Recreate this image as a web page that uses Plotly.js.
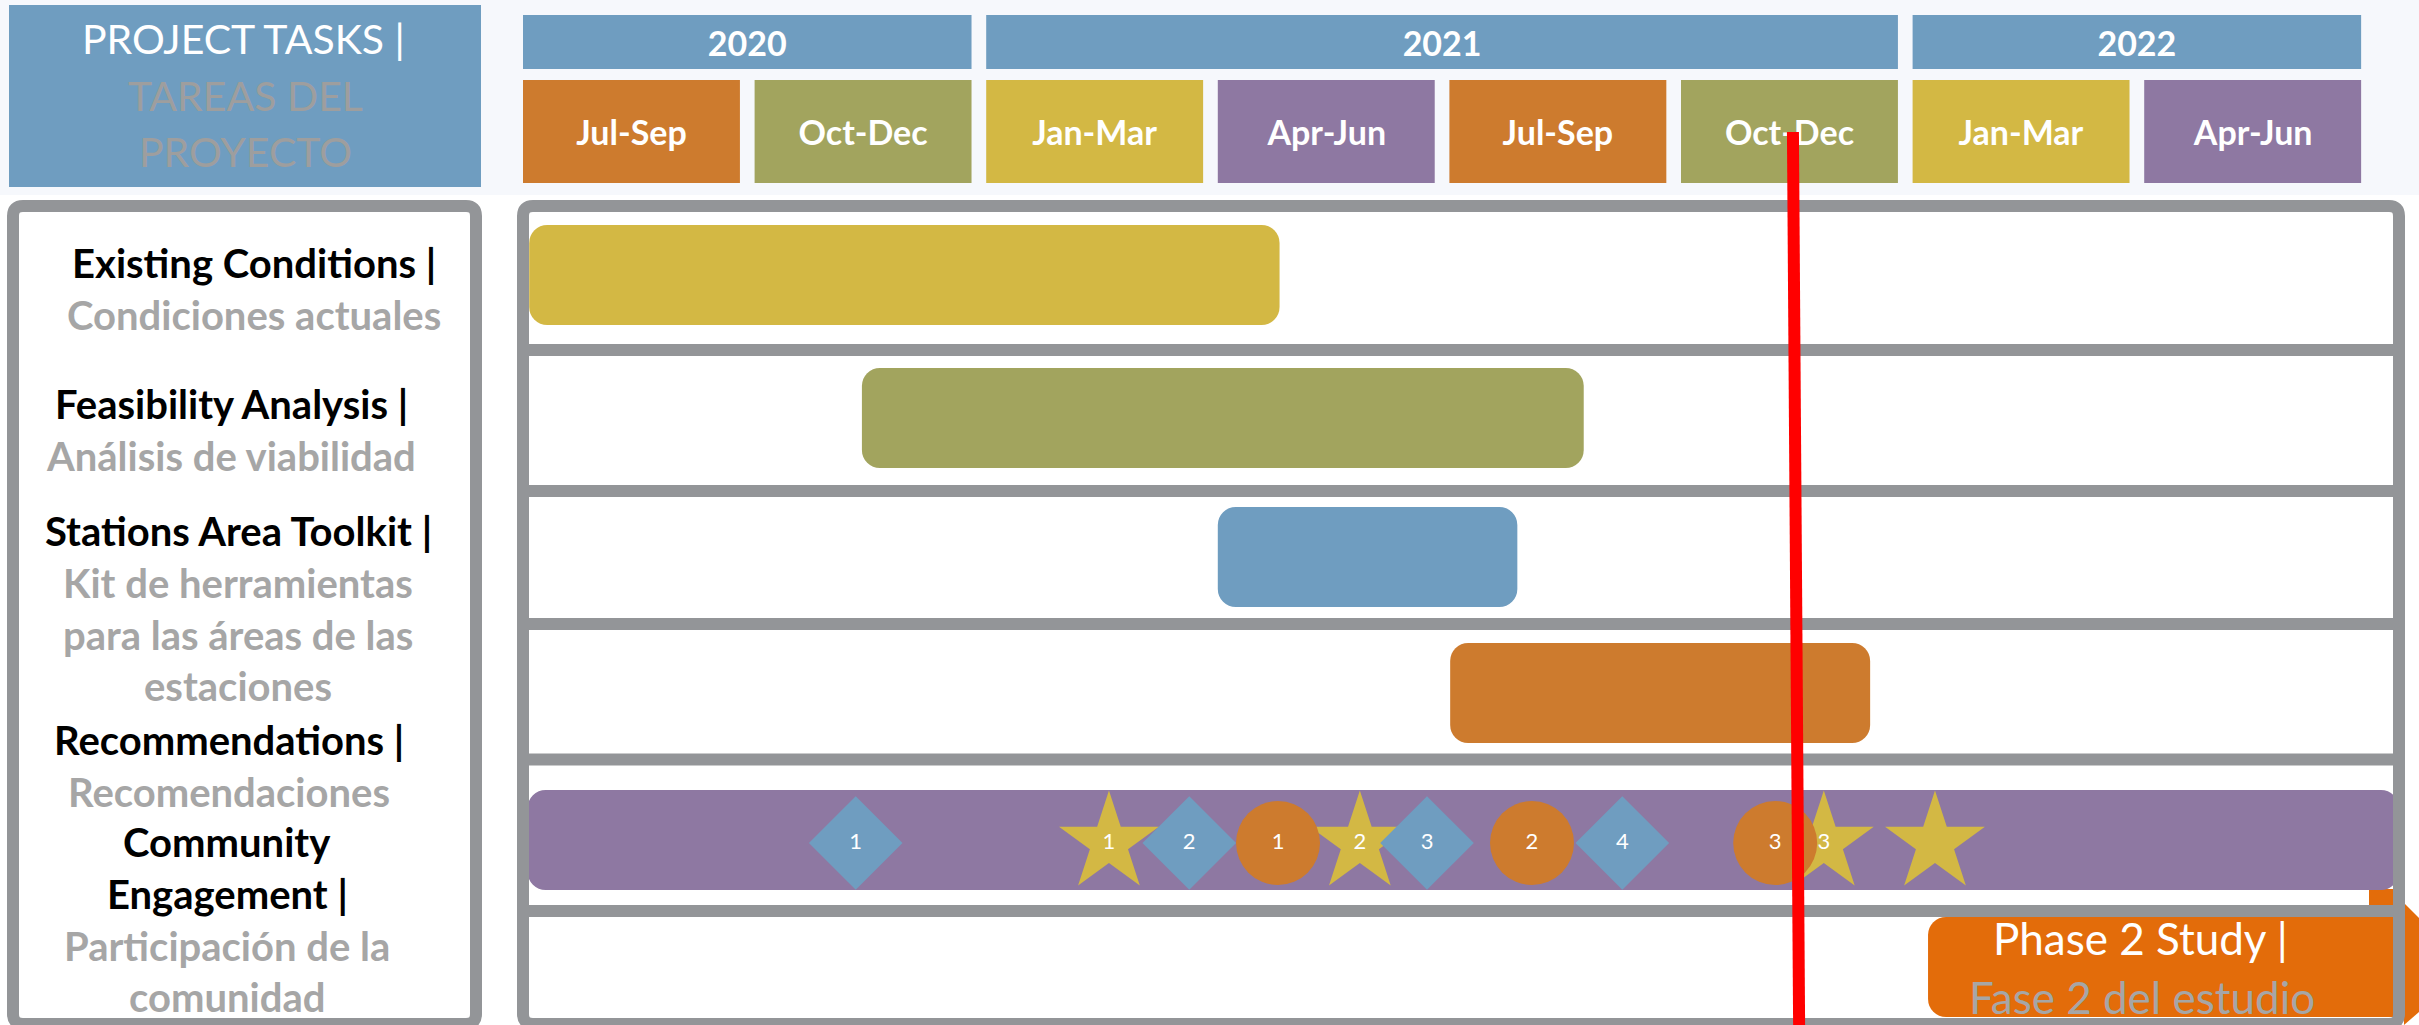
<!DOCTYPE html>
<html><head><meta charset="utf-8">
<script src="https://cdn.plot.ly/plotly-3.0.1.min.js"></script>
<style>html,body{margin:0;padding:0;background:#fff;overflow:hidden}#chart{width:2419px;height:1025px}</style>
</head><body><div id="chart"></div>
<script>
// ===== DATA (months counted from 1 Jul 2020) =====
const years = ['2020', '2021', '2022'];
const yearStartMonth = [0, 6, 18];
const yearEndMonth = [6, 18, 24];

const quarters = ['Jul-Sep', 'Oct-Dec', 'Jan-Mar', 'Apr-Jun', 'Jul-Sep', 'Oct-Dec', 'Jan-Mar', 'Apr-Jun'];
const quarterStartMonth = [0, 3, 6, 9, 12, 15, 18, 21];

const taskNames = ['Existing Conditions', 'Feasibility Analysis', 'Stations Area Toolkit', 'Recommendations', 'Community Engagement', 'Phase 2 Study'];
const taskStart = [0.08, 4.39, 9.0, 12.01, 0.06, 18.2];
const taskEnd = [9.8, 13.74, 12.88, 17.45, 24.3, 24.6];

const labelEn = [['Existing Conditions |'], ['Feasibility Analysis |'], ['Stations Area Toolkit |'], ['Recommendations |'], ['Community', 'Engagement |']];
const labelEs = [['Condiciones actuales'], ['Análisis de viabilidad'], ['Kit de herramientas', 'para las áreas de las', 'estaciones'], ['Recomendaciones'], ['Participación de la', 'comunidad']];

const diamondMonth = [4.31, 8.63, 11.71, 14.24];
const diamondLabels = ['1', '2', '3', '4'];
const starMonth = [7.59, 10.84, 16.85, 18.29];
const starLabels = ['1', '2', '3', ''];
const circleMonth = [9.78, 13.07, 16.22];
const circleLabels = ['1', '2', '3'];

const statusLineMonth = [16.45, 16.53]; // top, bottom of the red status line

const headerTitle = ['PROJECT TASKS |', 'TAREAS DEL', 'PROYECTO'];
const phase2Text = ['Phase 2 Study |', 'Fase 2 del estudio'];

// ===== LAYOUT / STYLE =====
const W = 2419, H = 1025;
const PX0 = 523, PXM = 77.2;
const GAP = 0.19;
const BLUE = '#6F9DC0', ORANGE = '#CD7B2E', OLIVE = '#A2A45E', YELLOW = '#D3B844', PURPLE = '#8E78A2', P2 = '#E36C0A', GREY = '#939598', TXTGREY = '#A6A6A6';
const quarterColor = {'Jul-Sep': ORANGE, 'Oct-Dec': OLIVE, 'Jan-Mar': YELLOW, 'Apr-Jun': PURPLE};
const taskColors = [YELLOW, OLIVE, BLUE, ORANGE, PURPLE, P2];
const rowY = [275, 418, 557, 693, 840, 967];
const BAR_T = 100;
const FONT = 'Lato';

const px = v => v / W;
function rr(x0, y0, x1, y1, r) {
  return `M${px(x0 + r)},${y0} L${px(x1 - r)},${y0} Q${px(x1)},${y0} ${px(x1)},${y0 + r} L${px(x1)},${y1 - r} Q${px(x1)},${y1} ${px(x1 - r)},${y1} L${px(x0 + r)},${y1} Q${px(x0)},${y1} ${px(x0)},${y1 - r} L${px(x0)},${y0 + r} Q${px(x0)},${y0} ${px(x0 + r)},${y0} Z`;
}

const traces = [];
// year header boxes
traces.push({
  type: 'bar', orientation: 'h', y: years.map(() => 42), base: yearStartMonth,
  x: yearStartMonth.map((s, i) => yearEndMonth[i] - s - GAP), width: 54,
  marker: {color: BLUE, line: {width: 0}}, text: years, textposition: 'inside', insidetextanchor: 'middle',
  textangle: 0, constraintext: 'none', textfont: {family: FONT, size: 34, color: '#ffffff', weight: 700}, hoverinfo: 'skip'
});
// quarter header boxes
traces.push({
  type: 'bar', orientation: 'h', y: quarters.map(() => 131.5), base: quarterStartMonth,
  x: quarterStartMonth.map(() => 3 - GAP), width: 103,
  marker: {color: quarters.map(q => quarterColor[q]), line: {width: 0}}, text: quarters, textposition: 'inside', insidetextanchor: 'middle',
  textangle: 0, constraintext: 'none', textfont: {family: FONT, size: 34, color: '#ffffff', weight: 700}, hoverinfo: 'skip'
});
// gantt bars
traces.push({
  type: 'bar', orientation: 'h', y: rowY, base: taskStart,
  x: taskEnd.map((e, i) => e - taskStart[i]), width: BAR_T,
  marker: {color: taskColors, line: {width: 0}, cornerradius: 18}, hoverinfo: 'skip', text: taskNames, textposition: 'none'
});
// community engagement event markers
const evY = rowY[4] + 3;
const mk = (xs, labels, symbol, size, color) => ({
  type: 'scatter', mode: 'markers+text', x: xs, y: xs.map(() => evY), text: labels, textposition: 'middle center',
  textfont: {family: FONT, size: 22, color: '#ffffff'}, hoverinfo: 'skip', cliponaxis: false,
  marker: {symbol: symbol, size: size, color: color, line: {width: 0}}
});
traces.push(mk(starMonth, starLabels, 'star', 75, YELLOW));
traces.push(mk(diamondMonth, diamondLabels, 'diamond', 72, BLUE));
traces.push(mk(circleMonth, circleLabels, 'circle', 84, ORANGE));

// shapes
const shapes = [];
shapes.push({type: 'rect', xref: 'paper', yref: 'y', x0: 0, x1: 1, y0: 0, y1: 195, fillcolor: '#F6F8FC', line: {width: 0}, layer: 'below'});
shapes.push({type: 'rect', xref: 'paper', yref: 'y', x0: px(9), x1: px(481), y0: 5, y1: 187, fillcolor: BLUE, line: {width: 0}, layer: 'below'});
shapes.push({type: 'path', xref: 'paper', yref: 'y', path: rr(13, 206, 476, 1024, 10), fillcolor: '#ffffff', line: {color: GREY, width: 12}, layer: 'below'});
shapes.push({type: 'path', xref: 'paper', yref: 'y', path: rr(523, 206, 2399, 1024, 10), fillcolor: '#ffffff', line: {width: 0}, layer: 'below'});
shapes.push({type: 'rect', xref: 'paper', yref: 'y', x0: px(2369), x1: px(2394), y0: 889, y1: 906, fillcolor: P2, line: {width: 0}, layer: 'below'});
shapes.push({type: 'path', xref: 'paper', yref: 'y', path: `M${px(2404)},903 L${px(2419)},918 L${px(2419)},1012 L${px(2404)},1025 Z`, fillcolor: P2, line: {width: 0}, layer: 'below'});
shapes.push({type: 'path', xref: 'paper', yref: 'y', path: rr(523, 206, 2399, 1024, 10), fillcolor: 'rgba(0,0,0,0)', line: {color: GREY, width: 12}, layer: 'above'});
[350, 491, 624, 759.5, 911].forEach(y => shapes.push({type: 'line', xref: 'paper', yref: 'y', x0: px(517), x1: px(2405), y0: y, y1: y, line: {color: GREY, width: 12}, layer: 'above'}));
shapes.push({type: 'line', xref: 'x', yref: 'y', x0: statusLineMonth[0], x1: statusLineMonth[1], y0: 132, y1: 1026, line: {color: '#FF0000', width: 12}, layer: 'above'});

// annotations
const ann = [];
const A = (text, x, y, size, color, weight) => ann.push({text: text, xref: 'paper', yref: 'y', x: px(x), y: y, xanchor: 'center', yanchor: 'middle', showarrow: false, font: {family: FONT, size: size, color: color, weight: weight}});
A(headerTitle[0], 243, 38, 41, '#ffffff', 400);
A(headerTitle[1], 245, 95, 41, '#9E9E9E', 400);
A(headerTitle[2], 245, 151, 41, '#9E9E9E', 400);
const blockTopY = [263, 404, 531, 740, 842];
const blockX = [254, 231, 238, 229, 227];
const LINE = 51.8;
labelEn.forEach((en, i) => {
  let k = 0;
  en.forEach(t => { A(t, blockX[i], blockTopY[i] + LINE * k, 40, '#000000', 700); k++; });
  labelEs[i].forEach(t => { A(t, blockX[i], blockTopY[i] + LINE * k, 40, TXTGREY, 700); k++; });
});
A(phase2Text[0], 2140, 938, 44, '#ffffff', 400);
A(phase2Text[1], 2142, 997, 44, TXTGREY, 400);

const layout = {
  width: W, height: H, margin: {l: 0, r: 0, t: 0, b: 0, pad: 0},
  paper_bgcolor: '#ffffff', plot_bgcolor: 'rgba(0,0,0,0)', showlegend: false, barmode: 'overlay',
  xaxis: {range: [(0 - PX0) / PXM, (W - PX0) / PXM], visible: false, fixedrange: true},
  yaxis: {range: [H, 0], visible: false, fixedrange: true},
  shapes: shapes, annotations: ann, font: {family: FONT}
};
Plotly.newPlot('chart', traces, layout, {staticPlot: true, displayModeBar: false});
</script></body></html>
